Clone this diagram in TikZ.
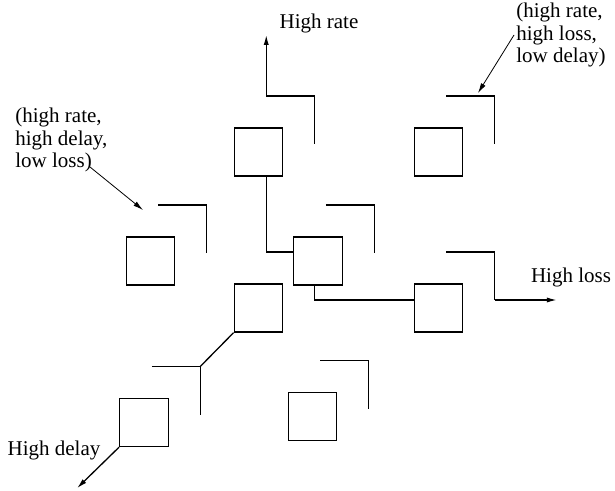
\documentclass[tikz,border=0pt]{standalone}
\usepackage{fontspec}
\setmainfont{Liberation Serif}
\usetikzlibrary{calc,arrows.meta}

\tikzset{
  cell/.style={draw, line width=0.65pt, minimum width=24.25pt, minimum height=24pt, inner sep=0pt},
  back/.style={minimum width=24.25pt, minimum height=24pt, inner sep=0pt, outer sep=0pt},
  edge/.style={line width=0.65pt},
  dir/.style={line width=0.65pt, -{Latex[length=5pt,width=2.6pt]}},
  note/.style={line width=0.4pt, -{Latex[length=5pt,width=2.6pt]}},
  txt/.style={inner sep=0pt, font=\fontsize{10.5}{11.3}\selectfont}
}

\begin{document}
\begin{tikzpicture}[x=0.5pt,y=-0.5pt]
\useasboundingbox (0,0) rectangle (615,491);

% front squares
\node[cell] (A) at (258.5,152) {};
\node[cell] (B) at (438.5,152) {};
\node[cell] (C) at (150.5,261) {};
\node[cell] (D) at (318,261) {};
\node[cell] (E) at (258.5,308) {};
\node[cell] (F) at (438.5,308) {};
\node[cell] (G) at (144,422.5) {};
\node[cell] (H) at (312.5,416.5) {};

% back squares, shifted up and right
\node[back] (Ab) at ($(A)+(32,-32)$) {};
\node[back] (Bb) at ($(B)+(32,-32)$) {};
\node[back] (Cb) at ($(C)+(32,-32)$) {};
\node[back] (Db) at ($(D)+(32,-32)$) {};
\node[back] (Eb) at ($(E)+(32,-32)$) {};
\node[back] (Fb) at ($(F)+(32,-32)$) {};
\node[back] (Gb) at ($(G)+(32,-32)$) {};
\node[back] (Hb) at ($(H)+(32,-32)$) {};

\draw[edge] (Ab.north west) -- (Ab.north east) -- (Ab.south east);
\draw[edge] (Bb.north west) -- (Bb.north east) -- (Bb.south east);
\draw[edge] (Cb.north west) -- (Cb.north east) -- (Cb.south east);
\draw[edge] (Db.north west) -- (Db.north east) -- (Db.south east);
\draw[edge] (Fb.north west) -- (Fb.north east) -- (Fb.south east);
\draw[edge] (Gb.north west) -- (Gb.north east) -- (Gb.south east);
\draw[edge] (Hb.north west) -- (Hb.north east) -- (Hb.south east);

% paths
\draw[edge] (Ab.north west |- A.south) -- (Eb.north west) -- (Eb.north west -| D.west);
\draw[edge] (Eb.south east |- D.south) -- (Eb.south east) -- (Eb.south east -| F.west);
\draw[edge] (E.south west) -- (Gb.north east);

\node[txt] (rate) at (319,23) {High rate};
\node[txt] (loss) at (571,277) {High loss};
\node[txt] (delay) at (54,450) {High delay};

\draw[dir] (Ab.north west) -- ++(0,-61);
\draw[dir] (Fb.south east) -- ++(62,0);
\draw[dir] (G.south west) -- ++(-42,41);

% annotations
\node[txt, align=left, anchor=west] (hdnote) at (15,140) {(high rate,\\high delay,\\low loss)};
\node[txt, align=left, anchor=west] (hlnote) at (516,35) {(high rate,\\high loss,\\low delay)};
\coordinate (hdtail) at (90,167);
\coordinate (hdtip) at (143,210);
\coordinate (hltip) at (478,93);
\draw[note] (hdtail) -- (hdtip);
\draw[note] ([xshift=-1pt]hlnote.west) -- (hltip);
\end{tikzpicture}
\end{document}
